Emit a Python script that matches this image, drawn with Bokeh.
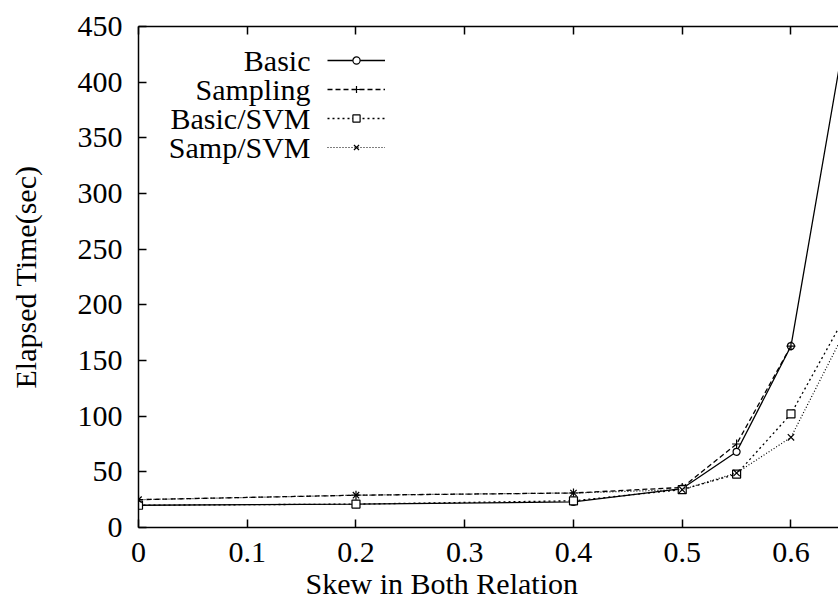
from bokeh.plotting import figure
from bokeh.models import Range1d, LinearAxis, FixedTicker, Legend, LegendItem, Label, Title
from bokeh.embed import file_html
from bokeh.resources import INLINE

# ---- data ----
x_skew = [0.0, 0.2, 0.4, 0.5, 0.55, 0.6, 0.65]
basic = [20, 21, 23, 35, 68, 163, 445]
sampling_x = [0.0, 0.2, 0.4, 0.5, 0.55, 0.6]
sampling = [25, 29, 31, 36, 75, 163]
basic_svm = [20, 21, 24, 34, 48, 102, 190]
samp_svm = [25, 29, 31, 34, 49, 81, 177]

x_ticks = [0, 0.1, 0.2, 0.3, 0.4, 0.5, 0.6]
y_ticks = [0, 50, 100, 150, 200, 250, 300, 350, 400, 450]
series_names = ["Basic", "Sampling", "Basic/SVM", "Samp/SVM"]
x_title = "Skew in Both Relation"
y_title = "Elapsed Time(sec)"

FONT = "Liberation Serif"
FS = "30px"

p = figure(width=838, height=599, output_backend="svg", toolbar_location=None,
           x_range=Range1d(0, 0.6437), y_range=Range1d(0, 450),
           y_axis_label=y_title,
           min_border_left=138, min_border_right=0, min_border_top=26, min_border_bottom=0)
p.outline_line_color = None
p.grid.visible = False
p.background_fill_color = "white"
p.border_fill_color = "white"

for ax in [p.xaxis[0], p.yaxis[0]]:
    ax.axis_line_width = 1.5
    ax.axis_line_color = "black"
    ax.major_tick_in = 8
    ax.major_tick_out = 0
    ax.major_tick_line_width = 1.5
    ax.minor_tick_line_color = None
    ax.major_label_text_font = FONT
    ax.major_label_text_font_size = FS
    ax.major_label_text_color = "black"
    ax.axis_label_text_font = FONT
    ax.axis_label_text_font_size = FS
    ax.axis_label_text_font_style = "normal"
    ax.axis_label_text_color = "black"

p.xaxis[0].ticker = FixedTicker(ticks=x_ticks)
p.yaxis[0].ticker = FixedTicker(ticks=y_ticks)
p.xaxis[0].major_label_overrides = {0: "0"}
p.yaxis[0].major_label_overrides = {0: "0"}
p.xaxis[0].major_label_standoff = 15
p.yaxis[0].major_label_standoff = 16
p.yaxis[0].axis_label_standoff = 33

top = LinearAxis(ticker=FixedTicker(ticks=x_ticks), axis_line_width=1.5,
                 major_tick_in=8, major_tick_out=0, major_tick_line_width=1.5,
                 minor_tick_line_color=None, major_label_text_font_size="0px",
                 major_label_text_color=None)
p.add_layout(top, "above")

xt = Title(text=x_title, align="left", offset=167, standoff=0,
           text_font=FONT, text_font_size=FS, text_font_style="normal", text_color="black")
p.add_layout(xt, "below")

r1l = p.line(x_skew, basic, line_color="black", line_width=1.3)
r1m = p.scatter(x_skew, basic, marker="circle", size=7, fill_color="white", line_color="black", line_width=1.2)
r2l = p.line(sampling_x, sampling, line_color="black", line_width=1.3, line_dash="5 3")
r2m = p.scatter(sampling_x, sampling, marker="cross", size=9, line_color="black", line_width=1.2)
r3l = p.line(x_skew, basic_svm, line_color="black", line_width=1.3, line_dash="2 3")
r3m = p.scatter(x_skew, basic_svm, marker="square", size=8, fill_color="white", line_color="black", line_width=1.2)
r4l = p.line(x_skew, samp_svm, line_color="black", line_width=1.2, line_dash="1 2")
r4m = p.scatter(x_skew, samp_svm, marker="x", size=9, line_color="black", line_width=1.2)

items = [LegendItem(label=" ", renderers=[l, m]) for l, m in
         [(r1l, r1m), (r2l, r2m), (r3l, r3m), (r4l, r4m)]]
legend = Legend(items=items, location=(189, 371), glyph_width=58, glyph_height=18,
                label_width=0, label_height=0, label_standoff=0, spacing=11,
                padding=0, margin=0, border_line_color=None, background_fill_alpha=0,
                label_text_font_size="1px")
p.add_layout(legend)

row_y = [467, 438, 409, 380]
for name, yy in zip(series_names, row_y):
    p.add_layout(Label(x=172, y=yy, x_units="screen", y_units="screen", text=name,
                       text_align="right", text_baseline="middle",
                       text_font=FONT, text_font_size=FS, text_color="black"))

open("out.html", "w").write(file_html(p, INLINE))
